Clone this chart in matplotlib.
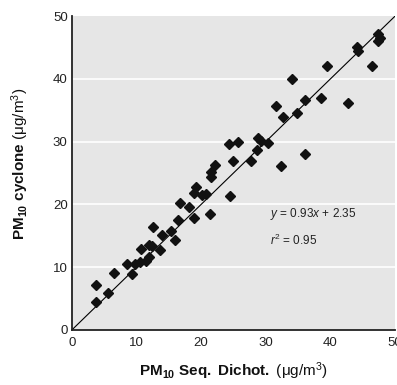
import matplotlib
matplotlib.use("Agg")
import matplotlib.pyplot as plt

# Fonts: Arial-like sans stands in for the journal's condensed face
plt.rcParams['font.family'] = ['Liberation Sans', 'DejaVu Sans']
plt.rcParams['mathtext.fontset'] = 'custom'
plt.rcParams['mathtext.rm'] = 'Liberation Sans'
plt.rcParams['mathtext.it'] = 'Liberation Sans:italic'
plt.rcParams['mathtext.bf'] = 'Liberation Sans:bold'

# Data
dichot = [3.7, 3.8, 5.6, 6.5, 8.5, 9.3, 9.7, 10.6, 10.7, 11.5,
          11.9, 12.0, 12.4, 12.5, 13.7, 14.0, 15.4, 16.0, 16.4, 16.7,
          18.1, 18.9, 18.9, 19.2, 20.2, 20.8, 21.3, 21.6, 21.6, 22.2,
          24.5, 24.3, 25.7, 25.0, 27.7, 28.6, 28.8, 29.3, 30.4, 32.35,
          31.6, 32.6, 34.1, 34.9, 36.1, 36.1, 38.5, 39.5, 42.7, 44.1,
          44.2, 46.4, 47.3, 47.7, 47.4]
cyclone = [4.5, 7.2, 5.9, 9.1, 10.5, 8.9, 10.5, 10.9, 12.9, 11.0,
           11.7, 13.6, 13.4, 16.4, 12.7, 15.2, 15.8, 14.4, 17.5, 20.2,
           19.6, 17.9, 21.9, 22.7, 21.5, 21.6, 18.4, 24.4, 25.1, 26.3,
           21.3, 29.7, 29.9, 26.9, 27.0, 28.6, 30.6, 30.1, 29.85, 26.1,
           35.7, 33.9, 40.0, 34.6, 36.7, 28.1, 36.9, 42.0, 36.2, 45.1,
           44.5, 42.0, 47.1, 46.6, 46.1]
ref_line = [0, 50]
ticks = [0, 10, 20, 30, 40, 50]

fig = plt.figure(figsize=(3.97, 3.85), dpi=100)
ax = fig.add_axes([0.181, 0.143, 0.814, 0.815])
ax.set_facecolor('#e6e6e6')

# horizontal white grid only
for t in ticks[1:-1]:
    ax.axhline(t, color='white', lw=1.2, zorder=0)

ax.plot(ref_line, ref_line, color='black', lw=0.8, zorder=2)
ax.plot(dichot, cyclone, linestyle='none', marker='D', ms=5.4,
        color='#111111', zorder=3)

ax.set_xlim(0, 50)
ax.set_ylim(0, 50)
ax.set_xticks(ticks)
ax.set_yticks(ticks)
ax.tick_params(length=0, labelsize=9.5, colors='#222222')
ax.tick_params(axis='x', pad=5)
ax.tick_params(axis='y', pad=3)
ax.grid(False)
for s in ['top', 'right']:
    ax.spines[s].set_visible(False)
for s in ['left', 'bottom']:
    ax.spines[s].set_linewidth(1.3)
    ax.spines[s].set_color('#222222')

fig.text(233 / 397, 1 - 371 / 385,
         r'$\mathbf{PM_{10}\ Seq.\ Dichot.}$ (μg/m$^3$)',
         fontsize=11, ha='center', va='center', color='#111111')
fig.text(20 / 397, 1 - 164 / 385,
         r'$\mathbf{PM_{10}\ cyclone}$ (μg/m$^3$)',
         fontsize=11, ha='center', va='center', rotation=90,
         color='#111111')

ax.text(30.7, 18.5, r'$y$ = 0.93$x$ + 2.35', fontsize=8.5, va='center',
        color='#222222')
ax.text(30.7, 14.3, r'$r^2$ = 0.95', fontsize=8.5, va='center',
        color='#222222')

fig.savefig('out.png', dpi=100)
